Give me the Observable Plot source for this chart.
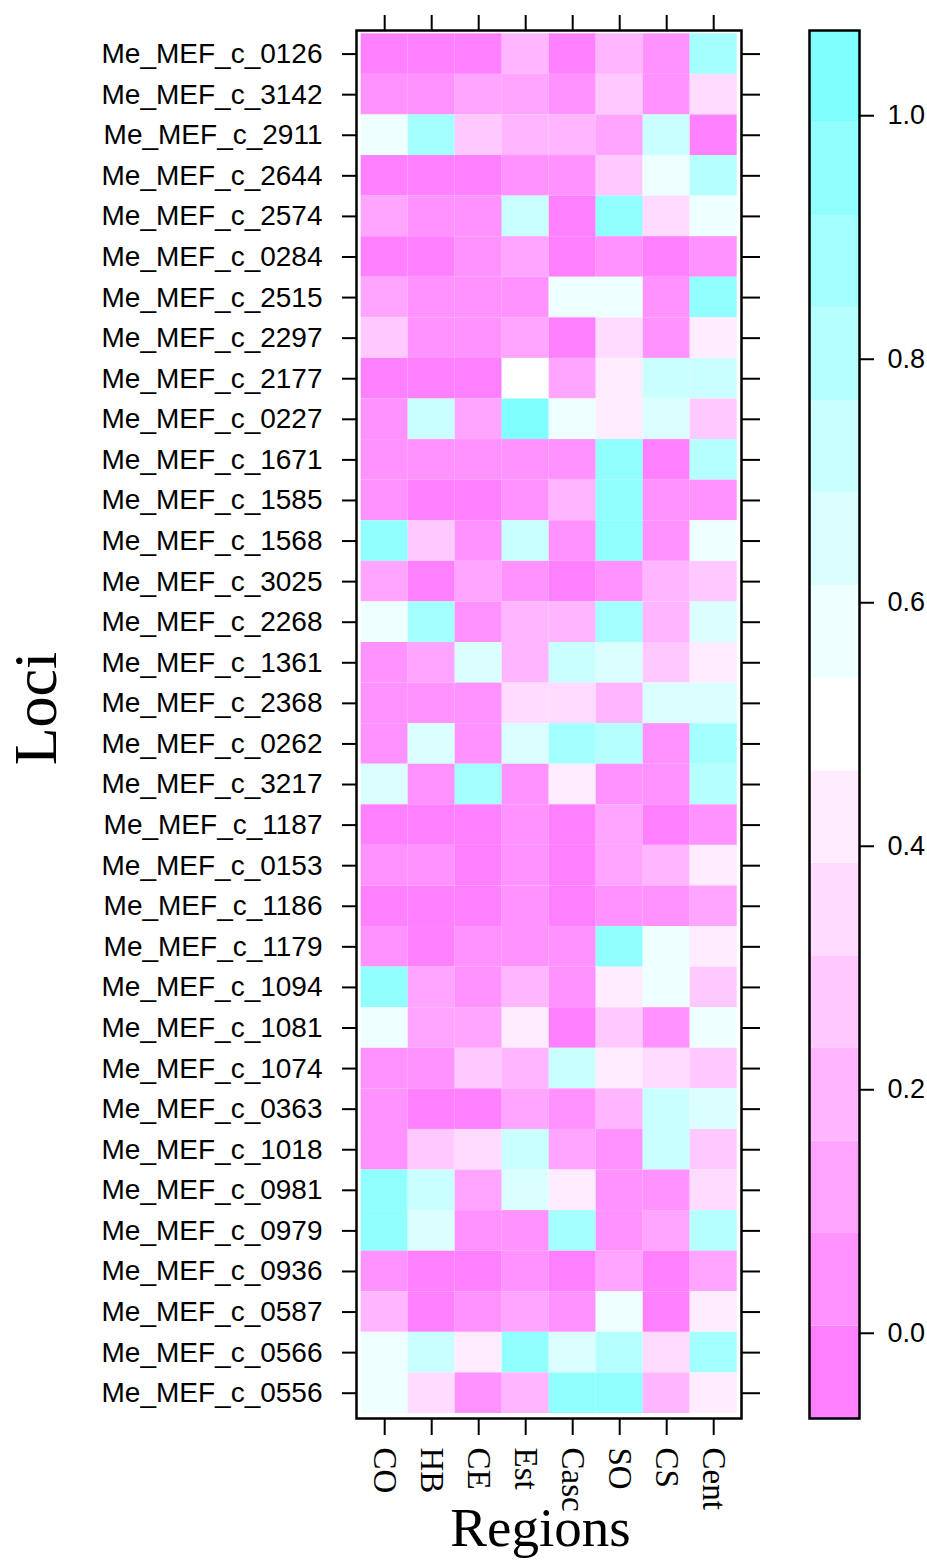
<!DOCTYPE html>
<html>
<head>
<meta charset="utf-8">
<script src="https://cdn.jsdelivr.net/npm/d3@7"></script>
<script src="https://cdn.jsdelivr.net/npm/@observablehq/plot@0.6"></script>
<style>
  html, body { margin: 0; padding: 0; background: #fff; }
  #wrap { position: relative; width: 927px; height: 1560px; background: #fff; color: #000; }
  #wrap svg { position: absolute; top: 0; max-width: none; background: transparent; }
</style>
</head>
<body>
<div id="wrap"></div>
<script>
// ---- data ----
const regions = ["CO", "HB", "CE", "Est", "Casc", "SO", "CS", "Cent"];
const loci = [
  "Me_MEF_c_0126", "Me_MEF_c_3142", "Me_MEF_c_2911", "Me_MEF_c_2644", "Me_MEF_c_2574",
  "Me_MEF_c_0284", "Me_MEF_c_2515", "Me_MEF_c_2297", "Me_MEF_c_2177", "Me_MEF_c_0227",
  "Me_MEF_c_1671", "Me_MEF_c_1585", "Me_MEF_c_1568", "Me_MEF_c_3025", "Me_MEF_c_2268",
  "Me_MEF_c_1361", "Me_MEF_c_2368", "Me_MEF_c_0262", "Me_MEF_c_3217", "Me_MEF_c_1187",
  "Me_MEF_c_0153", "Me_MEF_c_1186", "Me_MEF_c_1179", "Me_MEF_c_1094", "Me_MEF_c_1081",
  "Me_MEF_c_1074", "Me_MEF_c_0363", "Me_MEF_c_1018", "Me_MEF_c_0981", "Me_MEF_c_0979",
  "Me_MEF_c_0936", "Me_MEF_c_0587", "Me_MEF_c_0566", "Me_MEF_c_0556"
];
// one array per region, values in the same order as loci (top to bottom)
const CO   = [0.00, 0.05, 0.60, 0.00, 0.15, 0.00, 0.14, 0.30, 0.00, 0.05, 0.05, 0.05, 0.97, 0.14, 0.55, 0.05, 0.05, 0.05, 0.62, 0.00, 0.05, 0.00, 0.05, 0.92, 0.56, 0.05, 0.05, 0.05, 0.97, 0.97, 0.05, 0.20, 0.54, 0.55];
const HB   = [0.00, 0.05, 0.90, 0.00, 0.07, 0.00, 0.05, 0.05, 0.00, 0.72, 0.05, 0.00, 0.28, 0.00, 0.85, 0.15, 0.05, 0.68, 0.05, 0.00, 0.05, 0.00, 0.00, 0.14, 0.14, 0.05, 0.00, 0.30, 0.70, 0.65, 0.00, 0.00, 0.75, 0.35];
const CE   = [0.00, 0.13, 0.27, 0.00, 0.07, 0.05, 0.05, 0.05, 0.00, 0.15, 0.05, 0.00, 0.05, 0.15, 0.05, 0.62, 0.05, 0.05, 0.90, 0.00, 0.00, 0.00, 0.05, 0.07, 0.15, 0.30, 0.00, 0.36, 0.14, 0.05, 0.00, 0.05, 0.45, 0.05];
const Est  = [0.22, 0.13, 0.22, 0.05, 0.75, 0.13, 0.05, 0.12, 0.47, 1.00, 0.05, 0.05, 0.75, 0.05, 0.22, 0.20, 0.33, 0.68, 0.05, 0.05, 0.04, 0.05, 0.05, 0.22, 0.46, 0.22, 0.14, 0.72, 0.65, 0.05, 0.05, 0.13, 0.98, 0.22];
const Casc = [0.00, 0.07, 0.20, 0.07, 0.00, 0.00, 0.60, 0.00, 0.10, 0.55, 0.07, 0.22, 0.05, 0.00, 0.20, 0.72, 0.38, 0.88, 0.40, 0.00, 0.00, 0.00, 0.05, 0.07, 0.00, 0.75, 0.07, 0.14, 0.45, 0.90, 0.00, 0.05, 0.62, 0.92];
const SO   = [0.20, 0.25, 0.12, 0.25, 0.92, 0.05, 0.60, 0.38, 0.42, 0.42, 0.93, 0.93, 0.93, 0.05, 0.88, 0.62, 0.17, 0.78, 0.05, 0.12, 0.10, 0.07, 0.92, 0.40, 0.28, 0.42, 0.22, 0.05, 0.07, 0.07, 0.13, 0.60, 0.78, 0.98];
const CS   = [0.07, 0.07, 0.70, 0.56, 0.35, 0.00, 0.07, 0.05, 0.70, 0.65, 0.00, 0.05, 0.05, 0.22, 0.20, 0.25, 0.62, 0.05, 0.05, 0.00, 0.20, 0.07, 0.55, 0.56, 0.05, 0.35, 0.70, 0.70, 0.05, 0.10, 0.00, 0.00, 0.35, 0.20];
const Cent = [0.85, 0.35, 0.00, 0.80, 0.60, 0.05, 0.92, 0.42, 0.75, 0.25, 0.80, 0.05, 0.55, 0.25, 0.62, 0.45, 0.68, 0.90, 0.80, 0.05, 0.46, 0.12, 0.40, 0.25, 0.56, 0.25, 0.65, 0.25, 0.35, 0.80, 0.13, 0.46, 0.86, 0.40];
const series = [CO, HB, CE, Est, Casc, SO, CS, Cent];

// colour key: level boundaries and tick labels
const levelBreaks = [-0.07, 0.006, 0.082, 0.158, 0.234, 0.31, 0.386, 0.462, 0.538, 0.614, 0.69, 0.766, 0.842, 0.918, 0.994, 1.07];
const keyTicks = [0.0, 0.2, 0.4, 0.6, 0.8, 1.0];

// ---- styles ----
const levelColors = ["#FF80FF", "#FF92FF", "#FFA4FF", "#FFB6FF", "#FFC9FF", "#FFDBFF", "#FFEDFF", "#FFFFFF",
                     "#EDFFFF", "#DBFFFF", "#C9FFFF", "#B6FFFF", "#A4FFFF", "#92FFFF", "#80FFFF"];
const colorScale = {type: "threshold", domain: levelBreaks.slice(1, -1), range: levelColors};

const cells = loci.flatMap((locus, i) => regions.map((region, j) => ({locus, region, value: series[j][i]})));
const bands = levelBreaks.slice(0, -1).map((lo, k) => ({lo, hi: levelBreaks[k + 1], mid: (lo + levelBreaks[k + 1]) / 2}));

const H = 1560;
const sans = "Liberation Sans, Arial, sans-serif";
const serif = "Liberation Serif, Times New Roman, serif";

const heat = Plot.plot({
  width: 790,
  height: H,
  marginLeft: 356,
  marginRight: 49,
  marginTop: 30,
  marginBottom: H - 1418,
  style: {color: "#000", background: "transparent", overflow: "visible"},
  x: {type: "band", domain: regions, padding: 0, round: false, insetLeft: 4.7, insetRight: 4.3, label: null},
  y: {type: "band", domain: loci, padding: 0, round: false, insetTop: 3.3, insetBottom: 5, label: null},
  color: colorScale,
  marks: [
    Plot.cell(cells, {x: "region", y: "locus", fill: "value"}),
    Plot.frame({stroke: "#000", strokeWidth: 2.5}),
    Plot.axisX({anchor: "bottom", tickSize: 17, tickPadding: 12, tickRotate: 90, fontSize: 33, fontFamily: serif, strokeWidth: 2, label: null}),
    Plot.axisX({anchor: "top", tickSize: 16, tickFormat: () => "", strokeWidth: 2, label: null}),
    Plot.axisY({anchor: "left", tickSize: 14, tickPadding: 20, fontSize: 28, fontFamily: sans, strokeWidth: 2, label: null}),
    Plot.axisY({anchor: "right", tickSize: 18, tickFormat: () => "", strokeWidth: 2, label: null}),
    Plot.text(["Regions"], {frameAnchor: "bottom", dx: -8.5, dy: 110, textAnchor: "middle", lineAnchor: "middle", fontSize: 55, fontFamily: serif, fill: "#000"}),
    Plot.text(["Loci"], {frameAnchor: "left", dx: -320, dy: -16, rotate: -90, textAnchor: "middle", lineAnchor: "middle", fontSize: 62, fontFamily: serif, fill: "#000"})
  ]
});
heat.style.left = "0px";

const key = Plot.plot({
  width: 137,
  height: H,
  marginLeft: 19,
  marginRight: 68,
  marginTop: 30,
  marginBottom: H - 1418,
  style: {color: "#000", background: "transparent", overflow: "visible"},
  y: {domain: [levelBreaks[0], levelBreaks[levelBreaks.length - 1]], round: false, label: null},
  color: colorScale,
  marks: [
    Plot.rect(bands, {y1: "lo", y2: "hi", fill: "mid"}),
    Plot.frame({stroke: "#000", strokeWidth: 2.5}),
    Plot.axisY({anchor: "right", ticks: keyTicks, tickFormat: d3.format(".1f"), tickSize: 14, tickPadding: 14, fontSize: 27, fontFamily: sans, strokeWidth: 2, label: null})
  ]
});
key.style.left = "790px";

const wrap = document.getElementById("wrap");
wrap.append(heat, key);
</script>
</body>
</html>
